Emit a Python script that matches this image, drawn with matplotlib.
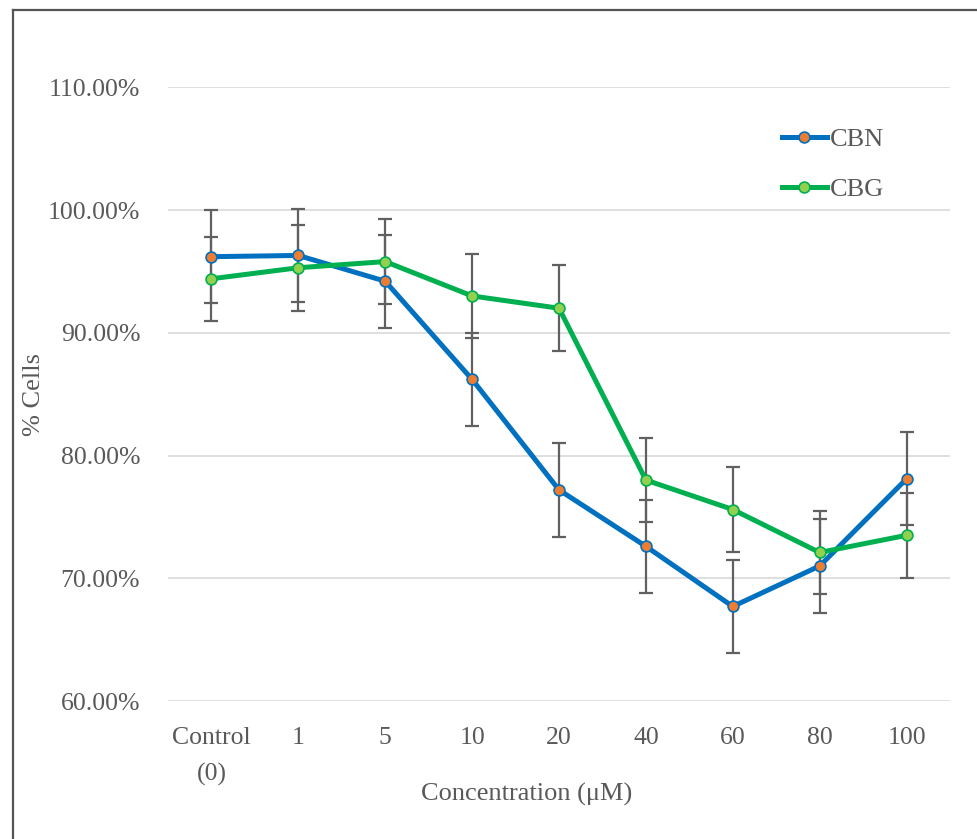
import numpy as np
import matplotlib.pyplot as plt
from matplotlib.lines import Line2D
from matplotlib.ticker import FuncFormatter

# data (% of cells)
categories = ["Control\n(0)", "1", "5", "10", "20", "40", "60", "80", "100"]
cbn_mean = [96.2, 96.3, 94.2, 86.2, 77.2, 72.6, 67.7, 71.0, 78.1]
cbn_err = [3.8, 3.8, 3.8, 3.8, 3.8, 3.8, 3.8, 3.8, 3.8]
cbg_mean = [94.4, 95.3, 95.8, 93.0, 92.0, 78.0, 75.6, 72.1, 73.5]
cbg_err = [3.4, 3.5, 3.45, 3.4, 3.5, 3.45, 3.45, 3.4, 3.45]

plt.rcParams['font.family'] = ['Liberation Serif', 'DejaVu Serif']
text_col = "#595959"

W, H = 977, 839
fig = plt.figure(figsize=(W / 100, H / 100), dpi=100)
ax = fig.add_axes([168 / W, 1 - 701 / H, (950 - 168) / W, (701 - 87.3) / H])

x = np.arange(len(categories))

ax.errorbar(x, cbn_mean, yerr=cbn_err, fmt='none', ecolor="#606060",
            elinewidth=1.6, capsize=5, capthick=1.6, zorder=2)
ax.errorbar(x, cbg_mean, yerr=cbg_err, fmt='none', ecolor="#606060",
            elinewidth=1.6, capsize=5, capthick=1.6, zorder=2)
ax.plot(x, cbn_mean, color="#0070C0", lw=3.6, marker='o', ms=7.8,
        mfc="#ED7D31", mec="#0070C0", mew=1.2, zorder=3, label="CBN")
ax.plot(x, cbg_mean, color="#00B050", lw=3.6, marker='o', ms=7.8,
        mfc="#92D050", mec="#00B050", mew=1.2, zorder=4, label="CBG")

ax.set_xlim(-0.5, len(categories) - 0.5)
ax.set_ylim(60, 110)
ax.set_yticks(np.arange(60, 111, 10))
ax.yaxis.set_major_formatter(FuncFormatter(lambda v, p: f"{v:.2f}%"))
ax.set_xticks(x)
ax.set_xticklabels(categories, linespacing=1.78)
ax.grid(axis='y', color="#D9D9D9", lw=1.2)
ax.set_axisbelow(True)
for s in ax.spines.values():
    s.set_visible(False)
ax.tick_params(axis='both', length=0, labelsize=18.5, labelcolor=text_col)
ax.tick_params(axis='x', pad=19)
ax.tick_params(axis='y', pad=20)

fig.text(527 / W, 1 - 794 / H, "Concentration (μM)", ha='center', va='center',
         fontsize=19, color=text_col)
fig.text(34 / W, 1 - 394 / H, "% Cells", ha='center', va='center',
         rotation=90, fontsize=19, color=text_col)

leg = ax.legend(loc='upper left', bbox_to_anchor=(782 / W, 1 - 128 / H),
                bbox_transform=fig.transFigure, frameon=False, fontsize=19,
                handlelength=1.7, handletextpad=0.1, labelspacing=1.0,
                borderaxespad=0, borderpad=0)
for t in leg.get_texts():
    t.set_color(text_col)

# outer frame (left and top only visible)
fig.add_artist(Line2D([12.5 / W, 12.5 / W], [0, 1 - 9.5 / H], color="#555555",
                      lw=1.6, transform=fig.transFigure))
fig.add_artist(Line2D([12.5 / W, 1], [1 - 9.5 / H, 1 - 9.5 / H], color="#555555",
                      lw=1.6, transform=fig.transFigure))

fig.savefig("out.png", dpi=100)
